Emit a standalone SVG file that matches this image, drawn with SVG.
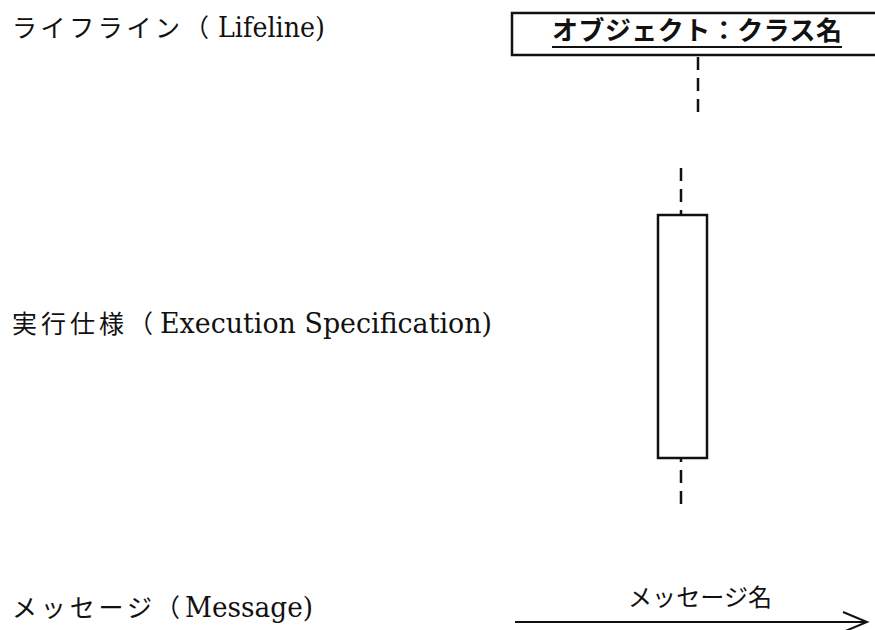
<svg xmlns="http://www.w3.org/2000/svg" width="875" height="630" viewBox="0 0 875 630">
<style>
  .jp { font-family: "Noto Sans CJK JP", "Noto Sans", sans-serif; font-size: 25px; fill: #111; }
  .lat { font-family: "DejaVu Serif", "Liberation Serif", serif; font-size: 27px; fill: #111; }
  .title { font-family: "Noto Sans CJK JP", "Noto Sans", sans-serif; font-size: 26px; font-weight: bold; fill: #111; }
  .msg { font-family: "Noto Sans CJK JP", "Noto Sans", sans-serif; font-size: 24px; fill: #111; }
  .box { fill: #fff; stroke: #111; stroke-width: 2.5; }
  .dash { stroke: #111; stroke-width: 2.5; stroke-dasharray: 13 8; fill: none; }
  .line { stroke: #111; stroke-width: 2; fill: none; }
</style>
<rect width="875" height="630" fill="#fff"/>

<g id="label-lifeline">
  <text class="jp" x="12" y="37" textLength="168" lengthAdjust="spacing">ライフライン</text>
  <text class="jp" x="184" y="37">（</text>
  <text class="lat" x="218" y="37" textLength="107" lengthAdjust="spacingAndGlyphs">Lifeline)</text>
</g>

<g id="label-execution">
  <text class="jp" x="12" y="333" textLength="112" lengthAdjust="spacing">実行仕様</text>
  <text class="jp" x="128" y="333">（</text>
  <text class="lat" x="160" y="333" textLength="332" lengthAdjust="spacingAndGlyphs">Execution Specification)</text>
</g>

<g id="label-message">
  <text class="jp" x="12" y="617" textLength="140" lengthAdjust="spacing">メッセージ</text>
  <text class="jp" x="155" y="617">（</text>
  <text class="lat" x="185" y="617" textLength="128" lengthAdjust="spacingAndGlyphs">Message)</text>
</g>

<g id="object">
  <rect class="box" x="512" y="13" width="380" height="42"/>
  <text class="title" x="552" y="40" textLength="290" lengthAdjust="spacing">オブジェクト：クラス名</text>
  <line x1="552" y1="47" x2="842" y2="47" stroke="#111" stroke-width="2"/>
</g>

<g id="execution-spec">
  <rect class="box" x="658" y="215" width="49" height="243"/>
</g>

<g id="connectors">
  <line class="dash" x1="698" y1="57" x2="698" y2="114"/>
  <line class="dash" x1="681" y1="168" x2="681" y2="215"/>
  <line class="dash" x1="681" y1="457" x2="681" y2="504" stroke-dashoffset="8"/>
  <line class="line" x1="515" y1="622" x2="866" y2="622"/>
  <polyline class="line" points="843,612 867,622 843,632"/>
</g>

<g id="message">
  <text class="msg" x="628" y="606" textLength="144" lengthAdjust="spacing">メッセージ名</text>
</g>
</svg>
